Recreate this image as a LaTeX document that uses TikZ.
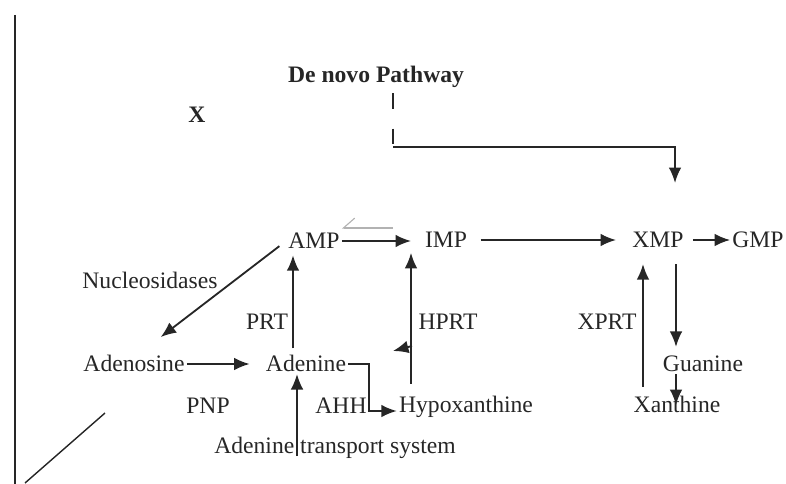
\documentclass[tikz,border=0pt]{standalone}
\usepackage{fontspec}
\setmainfont{Liberation Serif}
\usetikzlibrary{arrows.meta, positioning}
\tikzstyle{mol} = [inner sep=1pt, text height=11pt, text depth=0pt, font=\fontsize{16.8}{20}\selectfont]
\tikzstyle{head} = [mol, font=\fontsize{16.8}{20}\selectfont\bfseries]
\tikzstyle{back} = [gray!60, line width=0.8pt, -{Straight Barb[right, length=8pt, width=14pt]}]

\begin{document}
\begin{tikzpicture}[x=0.025cm, y=-0.025cm, >={Latex[length=11pt, width=9pt]}, line width=1.3pt, black!85]
  \useasboundingbox (0,0) rectangle (786,484);
  % frame remains
  \draw[line width=1pt] (15,15) -- (15,484);
  \draw[line width=1pt] (105,413) -- (25,483);

  % titles
  \node[head] (denovo) at (376,75) {De novo Pathway};
  \node[head] (x) at (197,115) {X};

  % compounds
  \node[mol] (amp) at (314,241) {AMP};
  \node[mol] (imp) at (446,240) {IMP};
  \node[mol] (xmp) at (658,240) {XMP};
  \node[mol] (gmp) at (758,240) {GMP};
  \node[mol] (ados) at (134,364) {Adenosine};
  \node[mol] (aden) at (306,364) {Adenine};
  \node[mol] (hyp) at (466,405) {Hypoxanthine};
  \node[mol] (guan) at (703,364) {Guanine};
  \node[mol] (xan) at (677,405) {Xanthine};
  \node[mol] (ats) at (335,446) {Adenine transport system};

  % enzymes
  \node[mol] (nuc) at (150,281) {Nucleosidases};
  \node[mol] (prt) at (267,322) {PRT};
  \node[mol] (hprt) at (448,322) {HPRT};
  \node[mol] (xprt) at (607,322) {XPRT};
  \node[mol] (pnp) at (208,406) {PNP};
  \node[mol] (ahh) at (341,406) {AHH};

  % helper points
  \coordinate (dncorner) at (393,147);
  \coordinate (dnend) at (675,183);
  \coordinate (prtx) at (293,0);
  \coordinate (atsx) at (297,0);
  \coordinate (hprtx) at (411,0);
  \coordinate (ahhturn) at (369,411);
  \coordinate (gx) at (676,0);
  \coordinate (xprtx) at (643,0);
  \coordinate (revstart) at (393,228);
  \coordinate (stub) at (412,346);
  \coordinate (stubtip) at (393,351);

  % de novo route
  \draw[dash pattern=on 11pt off 14pt, line width=1pt, shorten <=6pt] (denovo.south -| dncorner) -- (dncorner);
  \draw[->] (dncorner) -| (dnend);

  % salvage arrows
  \draw[->] (amp.east) -- (amp.east -| hprtx);
  \draw[back] (revstart) -- (revstart -| amp.east);
  \draw[->, shorten <=8pt, shorten >=10pt] (imp) -- (xmp);
  \draw[->, shorten <=5pt] (xmp) -- (gmp);
  \draw[->, shorten <=6pt] (amp.west) -- ([xshift=19pt, yshift=12pt]ados.north);
  \draw[->, shorten <=4pt, shorten >=3pt] (aden.north -| prtx) -- (amp.south -| prtx);
  \draw[->, shorten >=10pt] (ados.east) -- (aden.west);
  \draw[->] (ats.south -| atsx) -- (aden.south -| atsx);
  \draw[->] (aden.east) -| (ahhturn) -- (ahhturn -| hyp.west);
  \draw[->, shorten <=8pt, shorten >=2pt] (hyp.north -| hprtx) -- (imp.south -| hprtx);
  \draw[->] (stub) -- (stubtip);
  \draw[->, shorten <=10pt, shorten >=5pt] (xmp.south -| gx) -- (guan.north -| gx);
  \draw[->] (guan.south -| gx) -- (xan.center -| gx);
  \draw[->, shorten <=6pt, shorten >=10pt] (xan.north -| xprtx) -- (xmp.south -| xprtx);
\end{tikzpicture}
\end{document}
